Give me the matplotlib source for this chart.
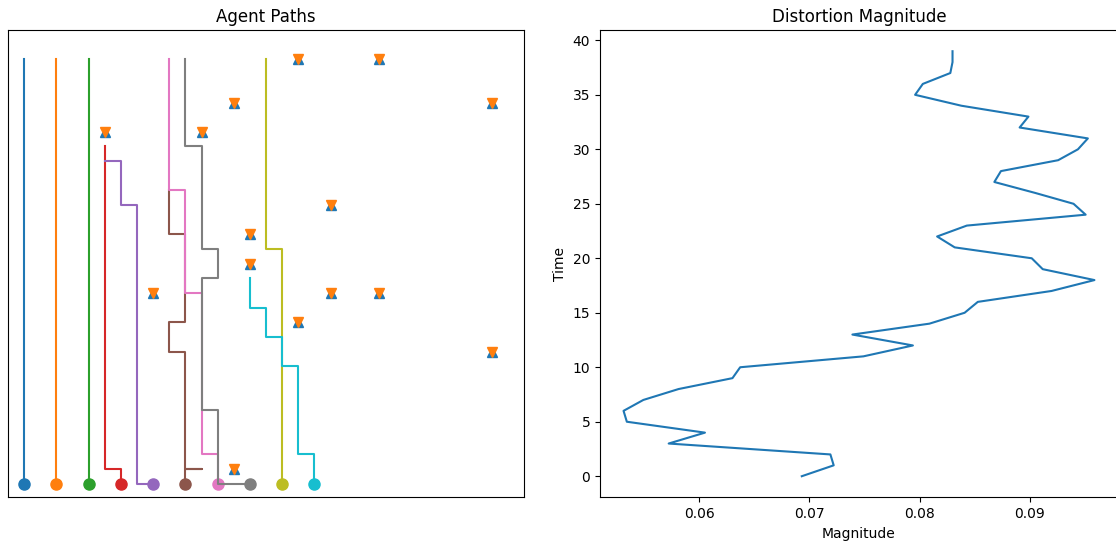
import matplotlib
matplotlib.use("Agg")
import matplotlib.pyplot as plt

# waypoints of each agent: grid position and time step
path_x = [
    [0, 0],
    [2, 2],
    [4, 4],
    [6, 6, 5, 5],
    [8, 7, 7, 6, 6, 5],
    [10, 10, 11, 10, 10, 9, 9, 10, 10, 9, 9],
    [12, 12, 11, 11, 10, 10, 9, 9],
    [14, 12, 12, 11, 11, 12, 12, 11, 11, 10, 10],
    [16, 16, 15, 15],
    [18, 18, 17, 17, 16, 16, 15, 15, 14, 14],
]
path_t = [
    [0, 29],
    [0, 29],
    [0, 29],
    [0, 1, 1, 23],
    [0, 0, 19, 19, 22, 22],
    [0, 1, 1, 1, 9, 9, 11, 11, 17, 17, 20],
    [0, 2, 2, 13, 13, 20, 20, 29],
    [0, 0, 5, 5, 14, 14, 16, 16, 23, 23, 29],
    [0, 16, 16, 29],
    [0, 2, 2, 8, 8, 10, 10, 12, 12, 14],
]

# distortion points
dist_x = [17, 22, 13, 29, 5, 11, 19, 14, 14, 8, 19, 22, 17, 29, 13]
dist_t = [29, 29, 26, 26, 24, 24, 19, 17, 15, 13, 13, 13, 11, 9, 1]

time = list(range(40))
magnitude = [
    0.0693, 0.0722, 0.0719, 0.0572, 0.0605, 0.0534, 0.0531, 0.0549, 0.0581, 0.0630,
    0.0637, 0.0749, 0.0794, 0.0739, 0.0809, 0.0841, 0.0853, 0.0920, 0.0959, 0.0912,
    0.0902, 0.0832, 0.0816, 0.0843, 0.0951, 0.0940, 0.0905, 0.0868, 0.0874, 0.0926,
    0.0944, 0.0953, 0.0891, 0.0899, 0.0838, 0.0796, 0.0803, 0.0828, 0.0830, 0.0830,
]

fig = plt.figure(figsize=(11.16, 5.5), dpi=100)
ax1 = fig.add_axes([8 / 1116, 0.0955, 516 / 1116, 0.85])
ax2 = fig.add_axes([600 / 1116, 0.0955, 518 / 1116, 0.85])

for i, (xs, ts) in enumerate(zip(path_x, path_t)):
    ax1.plot(xs, ts, color=f"C{i}", linewidth=1.5)
    ax1.plot(xs[0], ts[0], "o", color=f"C{i}", markersize=8)

ax1.plot(dist_x, dist_t, "^", color="C0", markersize=7.5, linestyle="none")
ax1.plot(dist_x, dist_t, "v", color="C1", markersize=7.5, linestyle="none")

ax1.set_xlim(-1, 31)
ax1.set_ylim(-0.95, 30.95)
ax1.set_xticks([])
ax1.set_yticks([])
ax1.set_title("Agent Paths")

ax2.plot(magnitude, time, color="C0")
ax2.set_title("Distortion Magnitude")
ax2.set_xlabel("Magnitude")
ax2.set_ylabel("Time")
ax2.set_xticks([0.06, 0.07, 0.08, 0.09])

fig.savefig("out.png", dpi=100)
